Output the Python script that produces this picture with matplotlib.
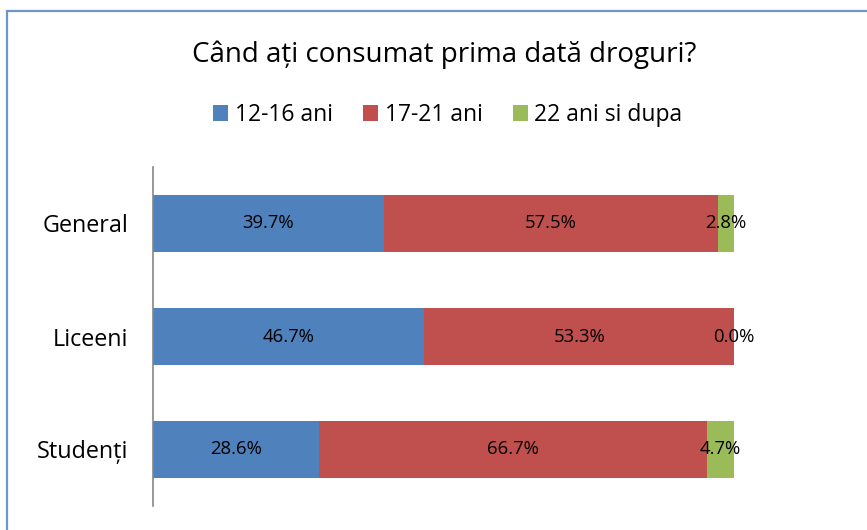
import numpy as np
import matplotlib.pyplot as plt
from matplotlib.patches import Rectangle

plt.rcParams['font.family'] = ['Open Sans', 'DejaVu Sans']

# Données
categories = ['General', 'Liceeni', 'Studenți']
serie_12_16 = [39.7, 46.7, 28.6]
serie_17_21 = [57.5, 53.3, 66.7]
serie_22 = [2.8, 0.0, 4.7]
noms_series = ['12-16 ani', '17-21 ani', '22 ani si dupa']
couleurs = ['#4F81BD', '#C0504D', '#9BBB59']

W, H = 867, 530
fig = plt.figure(figsize=(W / 100, H / 100), dpi=100)

# Cadre du graphique (bords gauche et haut visibles)
fig.patches.append(Rectangle((7 / W, -0.1), 1.2, (H - 11) / H + 0.1,
                             transform=fig.transFigure, fill=False,
                             edgecolor='#6F95C8', linewidth=1.6))

ax = fig.add_axes([153 / W, 1 - 506 / H, (734 - 153) / W, (506 - 167) / H])

y = np.arange(len(categories))[::-1]
series = [serie_12_16, serie_17_21, serie_22]
gauche = np.zeros(len(categories))
barres = []
for vals, nom, c in zip(series, noms_series, couleurs):
    vals = np.array(vals)
    b = ax.barh(y, vals, left=gauche, height=0.51, color=c, label=nom)
    barres.append(b)
    for yi, g, v in zip(y, gauche, vals):
        ax.text(g + v / 2, yi, f'{v:.1f}%', ha='center', va='center',
                fontsize=13.3, color='black')
    gauche = gauche + vals

ax.set_xlim(0, 100)
ax.set_ylim(-0.5, len(categories) - 0.5)
ax.set_yticks(y)
ax.set_yticklabels(categories, fontsize=16.8)
ax.tick_params(axis='y', length=0, pad=18)
ax.set_xticks([])
for s in ['top', 'right', 'bottom']:
    ax.spines[s].set_visible(False)
ax.spines['left'].set_color('#868686')
ax.spines['left'].set_linewidth(1.2)

fig.text(444 / W, 1 - 55 / H, 'Când ați consumat prima dată droguri?',
         ha='center', va='center', fontsize=20)

fig.legend(handles=barres, labels=noms_series, loc='center',
           bbox_to_anchor=(448 / W, 1 - 115 / H), ncol=3, frameon=False,
           fontsize=16.5, handlelength=0.65, handleheight=0.65,
           handletextpad=0.27, columnspacing=1.35)

fig.savefig('out.png', dpi=100)
